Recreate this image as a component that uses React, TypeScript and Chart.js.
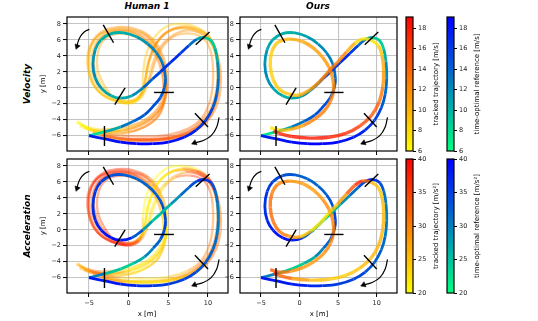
import React, { useEffect, useRef } from 'react';
import { Chart, registerables } from 'chart.js';

Chart.register(...registerables);

// ---------------- data ----------------
const X_TICKS = [-5, 0, 5, 10];
const Y_TICKS = [-6, -4, -2, 0, 2, 4, 6, 8];
const VEL_TICKS = [6, 8, 10, 12, 14, 16, 18];
const ACC_TICKS = [20, 25, 30, 35, 40];
const VEL_RANGE = [6, 19.1];
const ACC_RANGE = [20, 40];

// time-optimal reference
const refX = [-5.0, -3.0, -1.0, 0.6, 2.0, 3.1, 4.0, 4.5, 4.65, 4.3, 3.5, 2.4, 1.0, -0.6, -2.2, -3.5, -4.2, -4.5, -4.2, -3.4, -2.2, -1.0, 0.4, 1.8, 3.0, 4.0, 5.3, 6.5, 7.6, 8.6, 9.6, 10.4, 10.9, 11.2, 11.3, 11.1, 10.6, 9.7, 8.5, 7.0, 5.0, 3.0, 1.0, -1.0, -3.0, -5.0];
const refY = [-6.0, -5.5, -4.9, -4.2, -3.4, -2.3, -1.2, 0.0, 1.2, 3.0, 4.4, 5.5, 6.4, 6.9, 6.8, 6.0, 4.8, 3.0, 1.2, -0.1, -1.0, -1.3, -1.0, 0.0, 1.1, 2.0, 3.2, 4.3, 5.3, 6.1, 6.3, 5.9, 4.9, 3.3, 1.2, -0.8, -2.5, -4.1, -5.3, -6.2, -6.8, -7.0, -7.0, -6.8, -6.4, -6.0];
const refVel = [6, 9, 12, 14, 15, 15, 15, 14, 14, 13, 12, 12, 11, 10, 10, 10, 11, 12, 12, 11, 10, 10, 11, 13, 15, 16, 17, 17, 15, 12, 9, 8, 9, 11, 13, 14, 15, 16, 17, 18, 18.5, 19, 19, 18.5, 18, 17];
const refAcc = [34, 26, 23, 24, 28, 31, 33, 35, 35, 34, 33, 32, 32, 33, 34, 35, 36, 36, 37, 38, 39, 39, 36, 30, 25, 24, 27, 30, 33, 35, 37, 35, 32, 30, 30, 31, 32, 33, 34, 35, 35, 36, 37, 38, 38, 38];

// "Ours" tracked trajectory
const oursX = [-3.8, -2.6, -1.2, 0.5, 2.0, 3.2, 4.0, 4.4, 4.3, 3.8, 3.0, 1.9, 0.4, -1.3, -2.8, -3.6, -3.8, -3.4, -2.6, -1.4, 0.0, 1.4, 2.6, 3.7, 4.9, 6.1, 7.2, 8.1, 9.2, 10.2, 10.7, 10.9, 10.8, 10.3, 9.3, 7.8, 6.0, 3.8, 1.3, -1.0, -2.7, -3.4];
const oursY = [-5.0, -5.3, -5.2, -4.7, -3.9, -2.9, -1.7, -0.3, 1.2, 2.6, 3.8, 4.9, 5.8, 6.1, 5.7, 4.5, 2.8, 1.0, -0.2, -0.8, -0.9, -0.2, 0.8, 2.0, 3.2, 4.5, 5.6, 6.1, 6.0, 5.3, 4.0, 2.2, 0.2, -1.8, -3.5, -4.8, -5.7, -6.2, -6.3, -6.1, -5.7, -5.4];
const oursVel = [6, 8, 10, 12, 13, 13, 13, 12, 12, 12, 11, 11, 11, 10, 9, 9, 8, 9, 9, 9, 10, 11, 12, 13, 13, 12, 9, 7, 7, 8, 10, 11, 12, 14, 15, 16, 17, 18, 18, 18, 17, 16];
const oursAcc = [34, 32, 30, 28, 28, 29, 30, 30, 30, 30, 29, 28, 28, 29, 30, 31, 32, 32, 31, 30, 27, 22, 21, 22, 26, 30, 37, 38, 27, 24, 25, 26, 26, 26, 26, 25, 24, 24, 26, 30, 35, 36];

// "Human 1" laps
const hAX = [-6.6, -5.0, -3.0, -0.5, 1.8, 3.5, 4.5, 4.9, 4.7, 3.9, 2.5, 0.5, -1.5, -3.3, -4.6, -5.2, -5.0, -4.0, -2.4, -0.4, 1.2, 2.0, 2.4, 3.3, 4.8, 6.8, 8.5, 9.8, 10.8, 11.5, 11.6, 11.0, 9.8, 8.0, 5.5, 2.5, -0.5, -3.0];
const hAY = [-4.3, -5.1, -5.5, -5.3, -4.6, -3.3, -1.6, 0.5, 2.8, 4.9, 6.6, 7.5, 7.6, 7.1, 5.8, 4.0, 1.8, -0.2, -1.4, -1.8, -1.3, 0.5, 3.0, 5.3, 7.0, 7.7, 7.4, 6.7, 5.2, 2.8, 0.0, -2.5, -4.3, -5.6, -6.4, -6.7, -6.6, -6.2];
const hAVel = [6, 7, 9, 11, 12, 13, 13, 12, 12, 12, 12, 12, 12, 11, 11, 10, 10, 10, 9, 9, 9, 10, 11, 12, 12, 11, 10, 10, 11, 12, 13, 13, 14, 15, 15, 15, 14, 13];
const hAAcc = [20, 34, 30, 23, 22, 24, 23, 22, 25, 28, 33, 36, 37, 37, 36, 35, 34, 35, 37, 38, 30, 22, 21, 21, 21, 25, 34, 38, 33, 30, 31, 32, 30, 28, 24, 23, 26, 33];

const hBX = [-6.0, -4.5, -2.5, 0.0, 2.2, 3.8, 4.4, 4.4, 4.0, 3.2, 1.8, 0.0, -1.8, -3.2, -3.9, -3.9, -3.0, -1.8, 0.0, 1.5, 2.6, 3.4, 4.5, 6.0, 7.8, 9.3, 10.2, 10.6, 10.6, 10.2, 9.2, 7.5, 5.0, 2.0, -1.0, -3.2];
const hBY = [-4.6, -5.3, -5.6, -5.5, -4.8, -3.5, -1.8, 0.5, 2.5, 4.4, 5.9, 6.7, 6.7, 5.9, 4.3, 2.3, 0.2, -1.2, -1.6, -0.9, 1.0, 3.4, 5.4, 6.6, 6.8, 6.3, 5.0, 3.0, 0.5, -1.8, -3.8, -5.1, -5.9, -6.1, -6.0, -5.7];
const hBVel = [6, 8, 10, 12, 13, 13, 13, 13, 13, 13, 12, 12, 12, 11, 11, 10, 10, 10, 9, 10, 11, 12, 12, 12, 11, 11, 11, 12, 12, 13, 14, 14, 15, 15, 14, 13];
const hBAcc = [22, 36, 28, 22, 24, 26, 24, 22, 26, 30, 34, 36, 36, 35, 34, 33, 36, 38, 36, 24, 21, 22, 24, 30, 36, 37, 32, 30, 30, 31, 30, 27, 23, 22, 25, 32];

const hCX = [-6.3, -4.8, -2.8, -0.3, 2.0, 3.6, 4.6, 4.8, 4.4, 3.4, 1.9, -0.2, -2.2, -3.9, -4.9, -5.1, -4.5, -3.1, -1.3, 0.6, 1.6, 1.8, 2.2, 3.3, 5.0, 7.0, 8.8, 10.1, 11.0, 11.4, 11.2, 10.4, 9.0, 6.8, 4.0, 1.0, -1.8, -3.6];
const hCY = [-4.4, -5.2, -5.4, -5.1, -4.2, -2.9, -1.1, 1.0, 3.2, 5.3, 6.8, 7.4, 7.3, 6.5, 4.8, 2.6, 0.4, -1.0, -1.8, -1.9, -0.8, 1.5, 4.2, 6.4, 7.8, 8.0, 7.5, 6.5, 4.8, 2.0, -0.8, -3.0, -4.7, -5.9, -6.5, -6.6, -6.5, -6.1];
const hCVel = [6, 7, 8, 10, 11, 12, 12, 12, 12, 12, 11, 11, 11, 10, 10, 9, 9, 9, 8, 8, 8, 9, 9, 9, 8, 8, 9, 10, 11, 12, 12, 13, 13, 14, 14, 14, 13, 12];
const hCAcc = [20, 32, 28, 22, 22, 23, 22, 21, 24, 29, 33, 36, 38, 38, 37, 36, 35, 36, 38, 37, 28, 21, 20, 20, 20, 21, 23, 30, 34, 32, 31, 30, 29, 26, 22, 22, 24, 30];

const hDX = [-5.6, -4.0, -1.8, 0.8, 2.8, 4.1, 4.7, 4.6, 4.0, 2.9, 1.2, -0.8, -2.7, -4.0, -4.6, -4.5, -3.6, -2.0, -0.2, 1.4, 2.3, 2.9, 3.8, 5.3, 7.2, 8.9, 10.2, 11.0, 11.2, 10.8, 9.8, 8.2, 6.0, 3.0, 0.0, -2.5, -4.5];
const hDY = [-5.0, -5.6, -5.8, -5.4, -4.4, -2.9, -0.9, 1.4, 3.6, 5.4, 6.7, 7.2, 6.9, 5.8, 4.0, 1.8, -0.1, -1.3, -1.9, -1.4, 0.2, 2.6, 4.8, 6.4, 7.2, 6.9, 5.9, 4.0, 1.2, -1.4, -3.5, -5.0, -6.0, -6.4, -6.4, -6.1, -5.6];
const hDVel = [7, 9, 11, 12, 13, 13, 13, 13, 13, 13, 12, 12, 12, 11, 11, 10, 10, 10, 9, 9, 10, 11, 12, 12, 12, 11, 11, 11, 12, 12, 13, 14, 15, 16, 16, 15, 14];
const hDAcc = [24, 35, 27, 23, 23, 25, 24, 23, 27, 31, 35, 37, 37, 36, 35, 35, 36, 38, 37, 33, 25, 22, 22, 26, 31, 37, 35, 31, 30, 31, 31, 30, 27, 24, 24, 28, 34];

const hEX = [-6.4, -5.2, -3.5, -1.0, 1.5, 3.2, 4.2, 4.4, 4.1, 3.3, 1.9, 0.1, -1.9, -3.5, -4.3, -4.3, -3.5, -2.2, -0.5, 1.0, 1.9, 2.3, 2.9, 4.0, 5.9, 7.9, 9.5, 10.6, 11.2, 11.3, 10.8, 9.6, 7.8, 5.3, 2.3, -0.8, -3.3];
const hEY = [-4.2, -4.9, -5.2, -5.0, -4.3, -3.1, -1.4, 0.8, 2.9, 4.8, 6.2, 7.0, 7.0, 6.2, 4.6, 2.5, 0.4, -1.0, -1.7, -1.5, -0.3, 1.8, 4.3, 6.3, 7.4, 7.5, 6.9, 5.6, 3.4, 0.6, -2.0, -4.0, -5.4, -6.2, -6.5, -6.4, -6.0];
const hEVel = [6, 7, 9, 11, 12, 12, 12, 12, 12, 12, 11, 11, 11, 10, 10, 10, 9, 9, 8, 8, 9, 9, 10, 11, 11, 10, 10, 10, 11, 12, 12, 13, 14, 14, 15, 14, 13];
const hEAcc = [20, 30, 33, 24, 22, 23, 22, 21, 23, 27, 32, 35, 36, 36, 35, 34, 34, 36, 37, 35, 26, 21, 20, 21, 23, 28, 35, 37, 33, 31, 30, 31, 29, 25, 22, 23, 29];

const hFX = [-6.2, -4.6, -2.2, 0.3, 2.5, 3.9, 4.6, 4.7, 4.3, 3.6, 2.2, 0.3, -1.6, -3.4, -4.6, -5.0, -4.7, -3.7, -2.0, -0.1, 1.3, 2.0, 2.6, 3.6, 5.2, 7.0, 8.7, 10.0, 10.9, 11.4, 11.3, 10.6, 9.4, 7.4, 4.8, 1.8, -1.2, -3.4];
const hFY = [-4.8, -5.4, -5.5, -5.1, -4.1, -2.8, -1.2, 0.8, 3.0, 4.9, 6.5, 7.2, 7.3, 6.8, 5.5, 3.5, 1.3, -0.5, -1.5, -1.9, -1.1, 0.8, 3.4, 5.7, 7.2, 7.5, 7.1, 6.2, 4.6, 2.3, -0.4, -2.9, -4.6, -5.8, -6.4, -6.5, -6.3, -5.9];
const hFVel = [6, 8, 10, 12, 13, 13, 13, 13, 12, 12, 12, 12, 11, 11, 10, 10, 9, 9, 9, 9, 10, 11, 12, 12, 12, 11, 10, 10, 11, 12, 13, 14, 15, 15, 16, 15, 14, 13];
const hFAcc = [21, 33, 29, 22, 23, 24, 23, 22, 25, 30, 34, 37, 37, 36, 36, 35, 35, 37, 38, 36, 27, 22, 21, 22, 24, 30, 36, 37, 32, 30, 31, 31, 29, 26, 23, 23, 27, 33];

// gates: [x1, y1, x2, y2]
const gateSegments = [
  [-3.05, -4.8, -3.05, -7.3],
  [-3.2, 7.9, -1.9, 5.65],
  [-0.45, 0.0, -1.75, -2.1],
  [3.2, -0.58, 5.7, -0.58],
  [8.45, 5.4, 10.2, 7.0],
  [8.35, -3.2, 10.0, -4.9],
];

// direction arrows
const arrowTLX = [-4.95, -5.6, -6.1, -6.4, -6.5];
const arrowTLY = [7.35, 7.0, 6.4, 5.7, 5.2];
const arrowBRX = [11.4, 11.1, 10.4, 9.4, 8.3];
const arrowBRY = [-3.7, -4.9, -6.0, -6.6, -6.9];

// ---------------- helpers ----------------
const FONT = '"DejaVu Sans", sans-serif';
const GRID = 'rgba(176,176,176,0.75)';

const clamp01 = (t: number) => Math.max(0, Math.min(1, t));
const autumnR = (t: number, a = 1) => `rgba(255,${Math.round(255 * (1 - t))},0,${a})`;
const winterR = (t: number, a = 1) =>
  `rgba(0,${Math.round(255 * (1 - t))},${Math.round(255 * (0.5 + 0.5 * t))},${a})`;

const pts = (xs: number[], ys: number[]) => xs.map((x, i) => ({ x, y: ys[i] }));
const fmt = (v: number) => (v < 0 ? '\u2212' + Math.abs(v) : String(v));

function colored(xs: number[], ys: number[], vals: number[], range: number[], cmap: any, alpha: number, width: number) {
  const n = (v: number) => clamp01((v - range[0]) / (range[1] - range[0]));
  return {
    data: pts(xs, ys),
    showLine: true,
    pointRadius: 0,
    pointHoverRadius: 0,
    borderWidth: width,
    tension: 0.4,
    borderColor: cmap(n(vals[0]), alpha),
    segment: {
      borderColor: (ctx: any) => cmap(n((vals[ctx.p0DataIndex] + vals[ctx.p1DataIndex]) / 2), alpha),
    },
  };
}

function gateSets() {
  return gateSegments.map(([x1, y1, x2, y2]) => ({
    data: [{ x: x1, y: y1 }, { x: x2, y: y2 }],
    showLine: true,
    borderColor: '#000',
    borderWidth: 1.4,
    pointRadius: 0,
    tension: 0,
  }));
}

function arrow(xs: number[], ys: number[], rot: number) {
  return {
    data: pts(xs, ys),
    showLine: true,
    borderColor: '#000',
    borderWidth: 1.2,
    tension: 0.4,
    pointRadius: xs.map((_, i) => (i === xs.length - 1 ? 3.2 : 0)),
    pointStyle: 'triangle',
    rotation: rot,
    pointBackgroundColor: '#000',
    pointBorderColor: '#000',
    pointBorderWidth: 0.5,
  };
}

const marks = () => [...gateSets(), arrow(arrowTLX, arrowTLY, 200), arrow(arrowBRX, arrowBRY, 248)];

const humanLaps = (kind: 'vel' | 'acc') => {
  const v = kind === 'vel';
  const r = v ? VEL_RANGE : ACC_RANGE;
  const a = 0.42, w = 2.3;
  return [
    colored(hAX, hAY, v ? hAVel : hAAcc, r, autumnR, a, w),
    colored(hBX, hBY, v ? hBVel : hBAcc, r, autumnR, a, w),
    colored(hCX, hCY, v ? hCVel : hCAcc, r, autumnR, a, w),
    colored(hDX, hDY, v ? hDVel : hDAcc, r, autumnR, a, w),
    colored(hEX, hEY, v ? hEVel : hEAcc, r, autumnR, a, w),
    colored(hFX, hFY, v ? hFVel : hFAcc, r, autumnR, a, w),
  ];
};

const refLine = (kind: 'vel' | 'acc') =>
  colored(refX, refY, kind === 'vel' ? refVel : refAcc, kind === 'vel' ? VEL_RANGE : ACC_RANGE, winterR, 1, 2.8);

const oursLine = (kind: 'vel' | 'acc') =>
  colored(oursX, oursY, kind === 'vel' ? oursVel : oursAcc, kind === 'vel' ? VEL_RANGE : ACC_RANGE, autumnR, 0.8, 3.4);

const framePlugin = {
  id: 'frame',
  afterDatasetsDraw(chart: any) {
    const { ctx, chartArea: a } = chart;
    ctx.save();
    ctx.strokeStyle = '#000';
    ctx.lineWidth = 1.2;
    ctx.strokeRect(a.left, a.top, a.right - a.left, a.bottom - a.top);
    ctx.restore();
  },
};

type Rect = { l: number; t: number; r: number; b: number };

function Panel({ rect, xr, yr, labels, build }: { rect: Rect; xr: number[]; yr: number[]; labels: boolean; build: () => any[] }) {
  const ref = useRef<HTMLCanvasElement>(null);
  const yW = 30, padT = 6, padR = 6, xH = labels ? 16 : 6;
  const W = rect.r - rect.l + yW + padR;
  const H = rect.b - rect.t + padT + xH;
  useEffect(() => {
    const tickFont = { family: FONT, size: 6.5 };
    const chart = new Chart(ref.current as HTMLCanvasElement, {
      type: 'scatter',
      data: { datasets: build() },
      options: {
        animation: false,
        responsive: false,
        maintainAspectRatio: false,
        events: [],
        layout: { padding: { left: 0, top: padT, right: padR, bottom: 0 } },
        plugins: { legend: { display: false }, tooltip: { enabled: false } },
        scales: {
          x: {
            type: 'linear',
            min: xr[0],
            max: xr[1],
            afterBuildTicks: (s: any) => { s.ticks = X_TICKS.map((v) => ({ value: v })); },
            afterFit: (s: any) => { s.height = xH; },
            grid: { color: GRID, lineWidth: 1.1, tickLength: 4, tickColor: '#000', tickWidth: 1 },
            border: { display: false },
            ticks: { display: labels, font: tickFont, color: '#222', padding: 2, maxRotation: 0, autoSkip: false, callback: (v: any) => fmt(v) },
          },
          y: {
            type: 'linear',
            min: yr[0],
            max: yr[1],
            afterBuildTicks: (s: any) => { s.ticks = Y_TICKS.map((v) => ({ value: v })); },
            afterFit: (s: any) => { s.width = yW; },
            grid: { color: GRID, lineWidth: 1.1, tickLength: 4, tickColor: '#000', tickWidth: 1 },
            border: { display: false },
            ticks: { font: tickFont, color: '#222', padding: 2, autoSkip: false, callback: (v: any) => fmt(v) },
          },
        },
      } as any,
      plugins: [framePlugin],
    });
    return () => chart.destroy();
  }, []);
  return (
    <canvas
      ref={ref}
      width={W}
      height={H}
      style={{ position: 'absolute', left: rect.l - yW, top: rect.t - padT, width: W, height: H }}
    />
  );
}

function Colorbar({ rect, range, ticks, cmap }: { rect: Rect; range: number[]; ticks: number[]; cmap: any }) {
  const ref = useRef<HTMLCanvasElement>(null);
  const yW = 24, padT = 6, padB = 6, padL = 2;
  const W = rect.r - rect.l + padL + yW;
  const H = rect.b - rect.t + padT + padB;
  useEffect(() => {
    const chart = new Chart(ref.current as HTMLCanvasElement, {
      type: 'bar',
      data: {
        labels: [''],
        datasets: [
          {
            data: [[range[0], range[1]]],
            backgroundColor: (c: any) => {
              const a = c.chart.chartArea;
              if (!a) return cmap(0.5);
              const g = c.chart.ctx.createLinearGradient(0, a.bottom, 0, a.top);
              g.addColorStop(0, cmap(0));
              g.addColorStop(1, cmap(1));
              return g;
            },
            borderWidth: 0,
            barPercentage: 1,
            categoryPercentage: 1,
          },
        ],
      },
      options: {
        animation: false,
        responsive: false,
        maintainAspectRatio: false,
        events: [],
        layout: { padding: { left: padL, top: padT, right: 0, bottom: padB } },
        plugins: { legend: { display: false }, tooltip: { enabled: false } },
        scales: {
          x: { display: false },
          y: {
            position: 'right',
            min: range[0],
            max: range[1],
            afterBuildTicks: (s: any) => { s.ticks = ticks.map((v) => ({ value: v })); },
            afterFit: (s: any) => { s.width = yW; },
            grid: { drawOnChartArea: false, tickLength: 3, tickColor: '#000', tickWidth: 1 },
            border: { display: false },
            ticks: { font: { family: FONT, size: 6.5 }, color: '#222', padding: 2, autoSkip: false },
          },
        },
      } as any,
      plugins: [framePlugin],
    });
    return () => chart.destroy();
  }, []);
  return (
    <canvas
      ref={ref}
      width={W}
      height={H}
      style={{ position: 'absolute', left: rect.l - padL, top: rect.t - padT, width: W, height: H }}
    />
  );
}

function Label({ x, y, text, size = 7, bold = false, rotate = false }: { x: number; y: number; text: string; size?: number; bold?: boolean; rotate?: boolean }) {
  return (
    <div
      style={{
        position: 'absolute',
        left: x,
        top: y,
        transform: `translate(-50%, -50%)${rotate ? ' rotate(-90deg)' : ''}`,
        fontFamily: FONT,
        fontSize: size,
        fontWeight: bold ? 'bold' : 'normal',
        fontStyle: bold ? 'italic' : 'normal',
        lineHeight: 1,
        whiteSpace: 'nowrap',
        color: '#000',
      }}
    >
      {text}
    </div>
  );
}

const XR_L = [-7.77, 12.52];
const XR_R = [-7.72, 12.63];
const YR = [-7.92, 8.88];

const TL: Rect = { l: 67, t: 17, r: 228, b: 151 };
const TR: Rect = { l: 240, t: 17, r: 397, b: 151 };
const BL: Rect = { l: 67, t: 159, r: 228, b: 293 };
const BR: Rect = { l: 240, t: 159, r: 397, b: 293 };

export default function App() {
  return (
    <div style={{ position: 'fixed', left: 0, top: 0, width: 538, height: 321, background: '#fff', overflow: 'hidden' }}>
      <Panel rect={TL} xr={XR_L} yr={YR} labels={false} build={() => [...marks(), refLine('vel'), ...humanLaps('vel')]} />
      <Panel rect={TR} xr={XR_R} yr={YR} labels={false} build={() => [...marks(), oursLine('vel'), refLine('vel')]} />
      <Panel rect={BL} xr={XR_L} yr={YR} labels={true} build={() => [...marks(), refLine('acc'), ...humanLaps('acc')]} />
      <Panel rect={BR} xr={XR_R} yr={YR} labels={true} build={() => [...marks(), oursLine('acc'), refLine('acc')]} />

      <Colorbar rect={{ l: 406, t: 17, r: 413, b: 151 }} range={VEL_RANGE} ticks={VEL_TICKS} cmap={autumnR} />
      <Colorbar rect={{ l: 447, t: 17, r: 454, b: 151 }} range={VEL_RANGE} ticks={VEL_TICKS} cmap={winterR} />
      <Colorbar rect={{ l: 406, t: 159, r: 413, b: 293 }} range={ACC_RANGE} ticks={ACC_TICKS} cmap={autumnR} />
      <Colorbar rect={{ l: 447, t: 159, r: 454, b: 293 }} range={ACC_RANGE} ticks={ACC_TICKS} cmap={winterR} />

      <Label x={147} y={5.5} text="Human 1" size={9} bold />
      <Label x={318} y={5.5} text="Ours" size={9} bold />
      <Label x={27} y={84} text="Velocity" size={9} bold rotate />
      <Label x={27} y={226} text="Acceleration" size={9} bold rotate />
      <Label x={43} y={84} text="y [m]" rotate />
      <Label x={43} y={226} text="y [m]" rotate />
      <Label x={147} y={314} text="x [m]" />
      <Label x={319} y={314} text="x [m]" />
      <Label x={436} y={84} text="tracked trajectory [m/s]" rotate />
      <Label x={477} y={84} text="time-optimal reference [m/s]" rotate />
      <Label x={436} y={226} text="tracked trajectory [m/s²]" rotate />
      <Label x={477} y={226} text="time-optimal reference [m/s²]" rotate />
    </div>
  );
}
